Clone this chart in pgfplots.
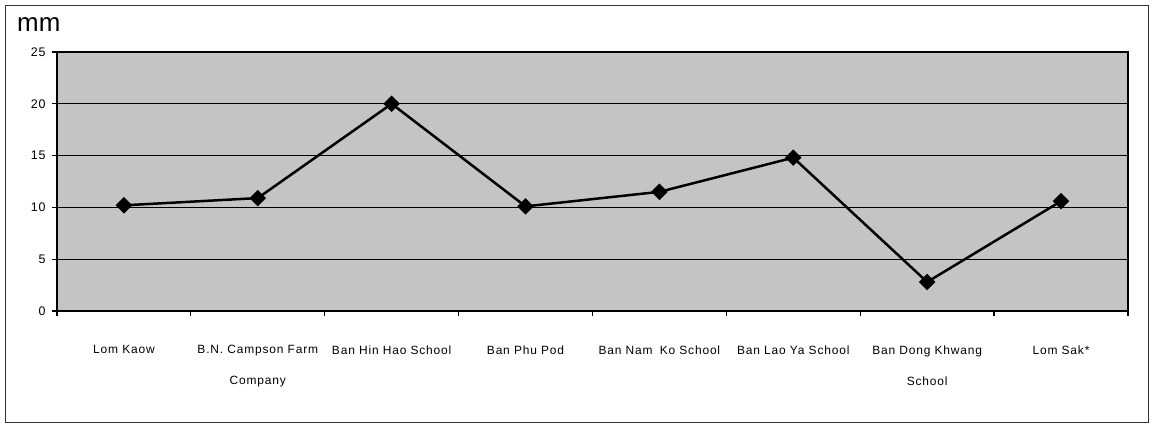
\documentclass[border=0pt]{standalone}
\usepackage{pgfplots}
\pgfplotsset{compat=1.18}
\usepackage{fontspec}
\setmainfont{Liberation Sans}[LetterSpace=7]
\newfontfamily\plainfont{Liberation Sans}
\definecolor{plotbg}{RGB}{196,196,196}

\pgfplotstableread{
x  rain
1  10.2
2  10.9
3  20.0
4  10.1
5  11.5
6  14.8
7  2.8
8  10.6
}\raindata

\begin{document}
\begin{tikzpicture}
% page = 1154 x 428, axis box lower-left at (0,0)
\useasboundingbox (-57bp,-117bp) rectangle (1097bp,311bp);
\draw[line width=1bp, black!80] (-51bp,-111bp) rectangle (1091bp,305bp);
\node[anchor=base west, inner sep=0pt, font=\plainfont\fontsize{26}{30}\selectfont] at (-40bp,279bp) {mm};
\begin{axis}[
    name=ax,
    at={(0,0)}, anchor=south west,
    scale only axis,
    width=1071bp, height=259bp,
    axis background/.style={fill=plotbg},
    axis line style={line width=1.3bp, black},
    xmin=0.5, xmax=8.5,
    ymin=0, ymax=25,
    ytick={0,5,...,25},
    ymajorgrids,
    grid style={line width=1.2bp, black},
    xtick={0.5,1.5,...,8.5},
    xticklabels={},
    extra x ticks={1,...,8},
    extra x tick style={major tick length=0pt, grid=none},
    extra x tick labels={Lom Kaow, {B.N. Campson Farm\\Company}, Ban Hin Hao School, Ban Phu Pod, Ban Nam\hspace{3bp} Ko School, Ban Lao Ya School, {Ban Dong Khwang\\School}, Lom Sak*},
    xticklabel style={font=\fontsize{12}{31}\selectfont, align=center, anchor=north, yshift=-31bp},
    xtick pos=bottom, ytick pos=left,
    tick align=outside,
    major tick length=5bp,
    tick style={line width=1.2bp, black},
    yticklabel style={font=\fontsize{12.5}{14}\selectfont, xshift=-3bp},
    /pgf/number format/assume math mode=true,
]
\addplot[black, line width=2.5bp, mark=square*, mark size=4.6bp, mark options={solid, fill=black, rotate=45}] table[x=x, y=rain] {\raindata};
\end{axis}
\end{tikzpicture}
\end{document}
